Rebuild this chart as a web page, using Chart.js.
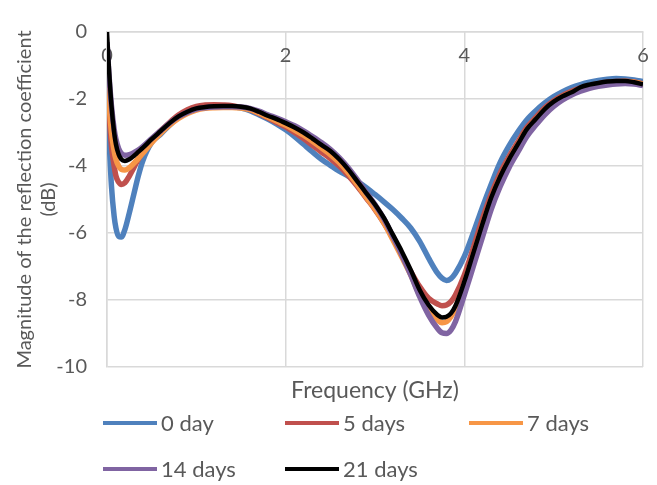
<!DOCTYPE html>
<html>
<head>
<meta charset="utf-8">
<script src="https://cdn.jsdelivr.net/npm/chart.js@4.4.1/dist/chart.umd.min.js"></script>
<style>
  html, body { margin: 0; padding: 0; background: #fff; }
  #wrap { position: relative; width: 657px; height: 485px; }
  #legend { position: absolute; left: 0; top: 0; width: 657px; height: 485px; pointer-events: none;
            font-family: Lato, sans-serif; font-size: 22px; color: #595959; }
  .item { position: absolute; height: 30px; line-height: 30px; white-space: nowrap; }
  .item span.ln { display: inline-block; width: 54px; height: 4px; vertical-align: middle; margin-right: 4px; position: relative; top: -2px; }
</style>
</head>
<body>
<div id="wrap">
  <canvas id="refl" width="657" height="485"></canvas>
  <div id="legend"></div>
</div>
<script>
//frequency (GHz)
var freq = [0, 0.02, 0.05, 0.08, 0.1, 0.13, 0.16, 0.2, 0.25, 0.3, 0.35, 0.4,
  0.5, 0.6, 0.7, 0.8, 0.9, 1.0, 1.1, 1.2, 1.3, 1.4, 1.5, 1.6, 1.7, 1.8, 1.9,
  2.0, 2.1, 2.2, 2.3, 2.4, 2.5, 2.6, 2.7, 2.8, 2.9, 3.0, 3.1, 3.2, 3.3, 3.4,
  3.5, 3.6, 3.7, 3.75, 3.8, 3.85, 3.9, 4.0, 4.1, 4.2, 4.3, 4.4, 4.5, 4.6,
  4.7, 4.8, 4.9, 5.0, 5.1, 5.2, 5.3, 5.4, 5.5, 5.6, 5.7, 5.8, 5.9, 6.0];

//magnitude (dB) per day
var day0 = [-1.7, -3.0, -4.6, -5.5, -5.85, -6.1, -6.12, -5.9, -5.4, -4.85, -4.3, -3.85,
  -3.3, -3.05, -2.78, -2.55, -2.4, -2.3, -2.25, -2.23, -2.22, -2.23, -2.27, -2.35, -2.47, -2.6, -2.75,
  -2.92, -3.12, -3.35, -3.58, -3.8, -3.98, -4.15, -4.3, -4.46, -4.64, -4.85, -5.07, -5.3, -5.56, -5.85,
  -6.25, -6.75, -7.2, -7.35, -7.42, -7.36, -7.2, -6.7, -6.0, -5.25, -4.55, -3.9, -3.4, -2.98,
  -2.62, -2.35, -2.12, -1.93, -1.78, -1.66, -1.57, -1.5, -1.45, -1.41, -1.39, -1.4, -1.43, -1.48];

var day5 = [-1.2, -2.3, -3.4, -4.0, -4.3, -4.48, -4.55, -4.5, -4.3, -4.05, -3.8, -3.58,
  -3.22, -2.95, -2.7, -2.48, -2.32, -2.22, -2.18, -2.17, -2.18, -2.2, -2.25, -2.32, -2.43, -2.56, -2.7,
  -2.83, -3.0, -3.18, -3.38, -3.58, -3.78, -4.0, -4.28, -4.6, -4.95, -5.3, -5.7, -6.15, -6.65, -7.15,
  -7.6, -7.95, -8.12, -8.17, -8.15, -8.05, -7.85, -7.25, -6.45, -5.6, -4.85, -4.22, -3.72, -3.28,
  -2.85, -2.55, -2.26, -2.05, -1.89, -1.77, -1.67, -1.6, -1.54, -1.5, -1.48, -1.47, -1.49, -1.55];

var day7 = [-0.8, -2.0, -3.0, -3.55, -3.8, -4.0, -4.1, -4.12, -4.05, -3.92, -3.78, -3.62,
  -3.3, -3.02, -2.78, -2.58, -2.43, -2.33, -2.28, -2.26, -2.25, -2.25, -2.27, -2.32, -2.42, -2.54, -2.66,
  -2.78, -2.93, -3.08, -3.26, -3.46, -3.66, -3.9, -4.2, -4.55, -4.92, -5.28, -5.7, -6.2, -6.72, -7.25,
  -7.85, -8.3, -8.6, -8.68, -8.65, -8.5, -8.25, -7.5, -6.65, -5.8, -5.0, -4.35, -3.83, -3.37,
  -2.92, -2.62, -2.32, -2.1, -1.93, -1.81, -1.7, -1.62, -1.56, -1.52, -1.49, -1.48, -1.5, -1.56];

var day14 = [-0.3, -1.2, -2.2, -2.9, -3.2, -3.48, -3.62, -3.68, -3.66, -3.6, -3.52, -3.42,
  -3.18, -2.95, -2.72, -2.53, -2.4, -2.3, -2.26, -2.24, -2.23, -2.23, -2.24, -2.28, -2.36, -2.47, -2.57,
  -2.68, -2.8, -2.95, -3.12, -3.3, -3.5, -3.75, -4.05, -4.4, -4.78, -5.15, -5.58, -6.1, -6.65, -7.25,
  -7.9, -8.45, -8.85, -8.98, -9.0, -8.9, -8.65, -7.85, -7.0, -6.15, -5.3, -4.62, -4.05, -3.58,
  -3.12, -2.78, -2.47, -2.22, -2.03, -1.88, -1.77, -1.68, -1.62, -1.58, -1.55, -1.54, -1.55, -1.6];

var day21 = [0, -1.0, -2.2, -3.0, -3.35, -3.65, -3.8, -3.85, -3.8, -3.7, -3.58, -3.46,
  -3.2, -2.96, -2.72, -2.52, -2.38, -2.28, -2.24, -2.22, -2.21, -2.21, -2.23, -2.28, -2.38, -2.5, -2.6,
  -2.72, -2.85, -3.0, -3.18, -3.37, -3.55, -3.8, -4.1, -4.45, -4.8, -5.15, -5.55, -6.05, -6.55, -7.1,
  -7.7, -8.15, -8.45, -8.52, -8.5, -8.4, -8.18, -7.45, -6.6, -5.75, -4.95, -4.32, -3.8, -3.35,
  -2.9, -2.6, -2.3, -2.08, -1.92, -1.8, -1.65, -1.57, -1.52, -1.48, -1.46, -1.46, -1.5, -1.56];

var names = ['0 day', '5 days', '7 days', '14 days', '21 days'];
var series = [day0, day5, day7, day14, day21];
var colors = ['#4F81BD', '#C0504D', '#F79646', '#8064A2', '#000000'];
var yTicks = [0, -2, -4, -6, -8, -10];
var xTicks = [0, 2, 4, 6];

var grey = '#595959';
var gridGrey = '#d9d9d9';
var font = 'Lato, sans-serif';

var datasets = series.map(function (vals, i) {
  return {
    label: names[i],
    data: vals.map(function (v, k) { return {x: freq[k], y: v}; }),
    borderColor: colors[i],
    backgroundColor: colors[i],
    borderWidth: i == 4 ? 4.5 : 5.5,
    pointRadius: 0,
    cubicInterpolationMode: 'monotone',
    order: 5 - i
  };
});

var config = {
  type: 'line',
  data: {datasets: datasets},
  options: {
    responsive: false,
    animation: false,
    layout: {padding: {top: 18, left: 0, right: 14, bottom: 81}},
    plugins: {legend: {display: false}, tooltip: {enabled: false}},
    scales: {
      x: {
        type: 'linear', min: 0, max: 6,
        position: {y: 0},
        afterBuildTicks: function (s) { s.ticks = xTicks.map(function (v) { return {value: v}; }); },
        afterFit: function (s) { s.paddingLeft = 0; s.paddingRight = 0; },
        grid: {color: gridGrey, lineWidth: 1.5, drawTicks: false},
        border: {color: gridGrey, width: 1.5},
        ticks: {color: grey, font: {family: font, size: 20}, padding: 12}
      },
      x2: {
        type: 'linear', min: 0, max: 6, position: 'bottom',
        grid: {display: false}, border: {display: false},
        ticks: {display: false},
        title: {display: true, text: 'Frequency (GHz)', color: grey,
                font: {family: font, size: 23}, padding: {top: 0, bottom: 0}},
        afterFit: function (s) { s.height = 37; s.paddingLeft = 0; s.paddingRight = 0; }
      },
      y: {
        min: -10, max: 0,
        afterBuildTicks: function (s) { s.ticks = yTicks.map(function (v) { return {value: v}; }); },
        grid: {color: gridGrey, lineWidth: 1.5, drawTicks: false},
        border: {color: gridGrey, width: 1.5},
        ticks: {color: grey, font: {family: font, size: 20}, padding: 20},
        title: {display: true, text: ['Magnitude of the reflection coefficient', '(dB)'], color: grey,
                font: {family: font, size: 20, lineHeight: 1.2}, padding: {top: 13, bottom: 0}},
        afterFit: function (s) { s.width = 107; }
      }
    }
  }
};

var myChart = new Chart(document.getElementById('refl'), config);

//legend like excel, two rows of three columns
var legendCols = [103, 285, 469];
var legendRows = [423, 469];
var legend = document.getElementById('legend');
names.forEach(function (n, i) {
  var d = document.createElement('div');
  d.className = 'item';
  d.style.left = legendCols[i % 3] + 'px';
  d.style.top = (legendRows[Math.floor(i / 3)] - 15) + 'px';
  d.innerHTML = '<span class="ln" style="background:' + colors[i] + '"></span>' + n;
  legend.appendChild(d);
});
</script>
</body>
</html>
